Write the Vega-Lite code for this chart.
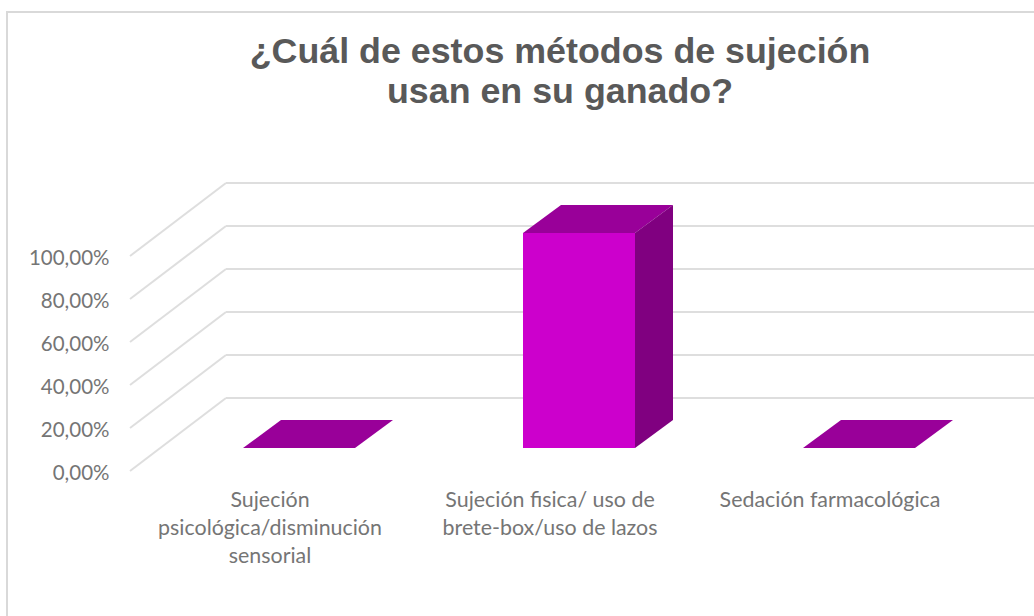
{
"$schema":"https://vega.github.io/schema/vega-lite/v6.json",
"width":1040,"height":620,
"autosize":{"type":"none"},
"padding":{"left":7,"top":12,"right":0,"bottom":0},
"background":"white",
"config":{"view":{"stroke":"#d9d9d9","strokeWidth":2}},
"title":{"text":["¿Cuál de estos métodos de sujeción","usan en su ganado?"],"font":"Liberation Sans","fontSize":35.8,"fontWeight":"bold","color":"#595959","lineHeight":40,"anchor":"middle","dx":33,"offset":-135,"baseline":"bottom"},
"datasets":{
"bars":[{"metodo":"Sujeción psicológica/disminución sensorial","valor":0},{"metodo":"Sujeción fisica/ uso de brete-box/uso de lazos","valor":100},{"metodo":"Sedación farmacológica","valor":0}],
"ticks":[{"v":0},{"v":20},{"v":40},{"v":60},{"v":80},{"v":100}]
},
"encoding":{},
"layer":[
{"data":{"name":"ticks"},
 "mark":{"type":"rule","color":"#dedede","strokeWidth":2,"xOffset":-84,"x2Offset":-44,"y2Offset":-73},
 "encoding":{
  "x":{"datum":"Sujeción psicológica/disminución sensorial","bandPosition":0,"type":"nominal","scale":{"type":"band","domain":["Sujeción psicológica/disminución sensorial","Sujeción fisica/ uso de brete-box/uso de lazos","Sedación farmacológica"],"range":[123,963],"paddingInner":0.6,"paddingOuter":0.3},
   "axis":{"title":null,"domain":false,"ticks":false,"offset":-143,"labelPadding":0,"labelAngle":0,"labelBaseline":"top","labelAlign":"center","labelFont":"Lato","labelFontSize":21.4,"labelColor":"#757575","labelLineHeight":28,"labelLimit":0,"labelExpr":"indexof(datum.label,'psico')>=0 ? ['Sujeción','psicológica/disminución','sensorial'] : indexof(datum.label,'brete')>=0 ? ['Sujeción fisica/ uso de','brete-box/uso de lazos'] : datum.label"}},
  "x2":{"datum":"Sujeción psicológica/disminución sensorial"},
  "y":{"field":"v","type":"quantitative","scale":{"domain":[-74.88,213.49],"nice":false,"zero":false},
   "axis":{"title":null,"domain":false,"ticks":false,"grid":false,"values":[0,20,40,60,80,100],"offset":-102,"labelPadding":0,"labelOffset":2,"labelFont":"Lato","labelFontSize":20.5,"labelColor":"#757575","labelExpr":"replace(format(datum.value,'.2f'),'.',',')+'%'"}},
  "y2":{"field":"v"}
 }},
{"data":{"name":"ticks"},
 "mark":{"type":"rule","color":"#dedede","strokeWidth":2,"xOffset":12,"x2Offset":300,"yOffset":-73,"y2Offset":-73},
 "encoding":{
  "x":{"datum":"Sujeción psicológica/disminución sensorial","bandPosition":0,"type":"nominal"},
  "x2":{"datum":"Sedación farmacológica"},
  "y":{"field":"v","type":"quantitative"},
  "y2":{"field":"v"}
 }},
{"data":{"name":"bars"},"transform":[{"filter":"datum.valor > 0"}],
 "mark":{"type":"bar","color":"#cc00cc","xOffset":29,"x2Offset":29,"yOffset":-23,"y2Offset":-23},
 "encoding":{
  "x":{"field":"metodo","type":"nominal"},
  "y":{"field":"valor","type":"quantitative"}
 }},
{"data":{"name":"bars"},
 "mark":{"type":"point","filled":true,"opacity":1,"size":10000,"strokeWidth":0,"color":"#990099","xOffset":29,"yOffset":-23,"shape":"M-1.12,0 L1.12,0 L1.88,-0.56 L-0.36,-0.56 Z"},
 "encoding":{
  "x":{"field":"metodo","type":"nominal"},
  "y":{"field":"valor","type":"quantitative"}
 }},
{"data":{"name":"bars"},"transform":[{"filter":"datum.valor > 0"}],
 "mark":{"type":"point","filled":true,"opacity":1,"size":10000,"strokeWidth":0,"color":"#800080","xOffset":29,"yOffset":-23,"shape":"M1.12,0 L1.88,-0.56 L1.88,3.74 L1.12,4.3 Z"},
 "encoding":{
  "x":{"field":"metodo","type":"nominal"},
  "y":{"field":"valor","type":"quantitative"}
 }}
]
}
